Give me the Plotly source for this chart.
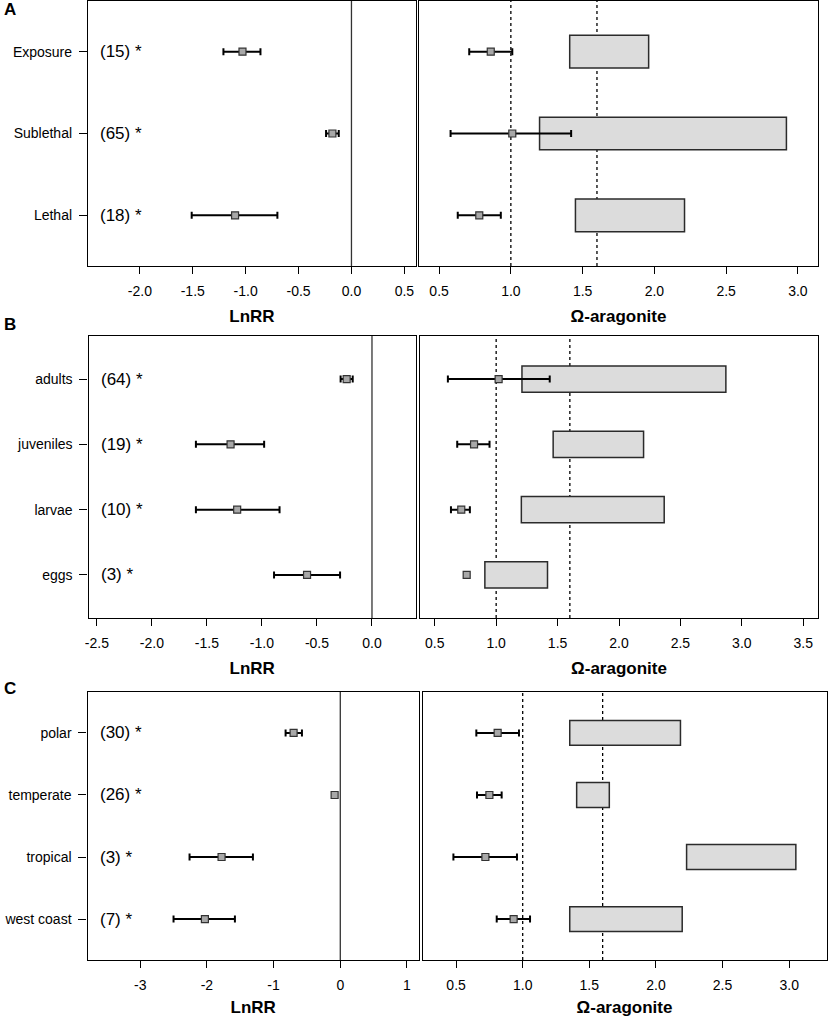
import plotly.graph_objects as go

# ---- data ----
# panel A : response type
a_cats = ["Exposure", "Sublethal", "Lethal"]
a_n = ["(15) *", "(65) *", "(18) *"]
a_lnrr = [-1.03, -0.18, -1.10]
a_lnrr_lo = [-1.21, -0.24, -1.51]
a_lnrr_hi = [-0.86, -0.12, -0.70]
a_om = [0.86, 1.01, 0.78]
a_om_lo = [0.71, 0.58, 0.63]
a_om_hi = [1.01, 1.42, 0.93]
a_rng_lo = [1.41, 1.20, 1.45]
a_rng_hi = [1.96, 2.92, 2.21]

# panel B : life stage
b_cats = ["adults", "juveniles", "larvae", "eggs"]
b_n = ["(64) *", "(19) *", "(10) *", "(3) *"]
b_lnrr = [-0.23, -1.285, -1.225, -0.59]
b_lnrr_lo = [-0.285, -1.60, -1.60, -0.89]
b_lnrr_hi = [-0.175, -0.98, -0.84, -0.29]
b_om = [1.02, 0.82, 0.716, 0.76]
b_om_lo = [0.607, 0.683, 0.632, 0.76]
b_om_hi = [1.436, 0.946, 0.786, 0.76]
b_rng_lo = [1.21, 1.464, 1.205, 0.908]
b_rng_hi = [2.87, 2.20, 2.368, 1.418]

# panel C : region
c_cats = ["polar", "temperate", "tropical", "west coast"]
c_n = ["(30) *", "(26) *", "(3) *", "(7) *"]
c_lnrr = [-0.70, -0.085, -1.78, -2.03]
c_lnrr_lo = [-0.82, -0.085, -2.26, -2.50]
c_lnrr_hi = [-0.575, -0.085, -1.31, -1.58]
c_om = [0.812, 0.75, 0.72, 0.932]
c_om_lo = [0.652, 0.657, 0.48, 0.805]
c_om_hi = [0.972, 0.842, 0.957, 1.055]
c_rng_lo = [1.353, 1.405, 2.23, 1.353]
c_rng_hi = [2.184, 1.65, 3.05, 2.197]

lnrr_zero = 0
omega_lines = [1.0, 1.6]

a_lnrr_ticks = [-2.0, -1.5, -1.0, -0.5, 0.0, 0.5]
b_lnrr_ticks = [-2.5, -2.0, -1.5, -1.0, -0.5, 0.0]
c_lnrr_ticks = [-3, -2, -1, 0, 1]
a_om_ticks = [0.5, 1.0, 1.5, 2.0, 2.5, 3.0]
b_om_ticks = [0.5, 1.0, 1.5, 2.0, 2.5, 3.0, 3.5]
c_om_ticks = [0.5, 1.0, 1.5, 2.0, 2.5, 3.0]

W, H = 829, 1017
FONT = "Liberation Sans, Arial, sans-serif"

fig = go.Figure()


def fmt(vals, dec=1):
    return [("%." + str(dec) + "f") % v for v in vals]


panels = [
    dict(letter="A", cats=a_cats, n=a_n, ln=a_lnrr, lnlo=a_lnrr_lo, lnhi=a_lnrr_hi,
         om=a_om, omlo=a_om_lo, omhi=a_om_hi, rlo=a_rng_lo, rhi=a_rng_hi,
         lt=a_lnrr_ticks, ltt=fmt(a_lnrr_ticks), ot=a_om_ticks, ott=fmt(a_om_ticks),
         lrange=[-2.49, 0.61], orange=[0.36, 3.14],
         lx=[88, 416], rx=[419, 818], py=[1, 266], lab_y=9),
    dict(letter="B", cats=b_cats, n=b_n, ln=b_lnrr, lnlo=b_lnrr_lo, lnhi=b_lnrr_hi,
         om=b_om, omlo=b_om_lo, omhi=b_om_hi, rlo=b_rng_lo, rhi=b_rng_hi,
         lt=b_lnrr_ticks, ltt=fmt(b_lnrr_ticks), ot=b_om_ticks, ott=fmt(b_om_ticks),
         lrange=[-2.576, 0.40], orange=[0.38, 3.62],
         lx=[88.5, 416], rx=[420, 818], py=[336, 618], lab_y=324),
    dict(letter="C", cats=c_cats, n=c_n, ln=c_lnrr, lnlo=c_lnrr_lo, lnhi=c_lnrr_hi,
         om=c_om, omlo=c_om_lo, omhi=c_om_hi, rlo=c_rng_lo, rhi=c_rng_hi,
         lt=c_lnrr_ticks, ltt=fmt(c_lnrr_ticks, 0), ot=c_om_ticks, ott=fmt(c_om_ticks),
         lrange=[-3.79, 1.18], orange=[0.248, 3.28],
         lx=[87.5, 419], rx=[422.5, 826.5], py=[692, 960], lab_y=688),
]

axis_common = dict(showline=True, mirror=True, linecolor="black", linewidth=1.3,
                   showgrid=False, zeroline=False, ticks="outside", ticklen=7,
                   tickcolor="black", tickwidth=1.2, automargin=False,
                   tickfont=dict(family=FONT, size=14, color="black"))

layout_axes = {}
annotations = []
shapes = []

for i, p in enumerate(panels):
    k = len(p["cats"])
    ypos = list(range(k, 0, -1))
    yrange = [0.5 - 0.04 * k, k + 0.5 + 0.04 * k]
    ydom = [1 - p["py"][1] / H, 1 - p["py"][0] / H]
    li, ri = 2 * i + 1, 2 * i + 2
    lx_name = "x" if li == 1 else "x%d" % li
    ly_name = "y" if li == 1 else "y%d" % li
    rx_name, ry_name = "x%d" % ri, "y%d" % ri

    # left panel: LnRR
    fig.add_trace(go.Scatter(
        x=p["ln"], y=ypos, xaxis=lx_name, yaxis=ly_name, mode="markers",
        marker=dict(symbol="square", size=7, color="#a8a8a8",
                    line=dict(color="#333333", width=1.2)),
        error_x=dict(type="data", symmetric=False,
                     array=[h - m for h, m in zip(p["lnhi"], p["ln"])],
                     arrayminus=[m - l for m, l in zip(p["ln"], p["lnlo"])],
                     color="black", thickness=2, width=3.5),
        showlegend=False, hoverinfo="skip"))

    # right panel: omega ranges (bars) and means
    fig.add_trace(go.Bar(
        y=ypos, x=[h - l for h, l in zip(p["rhi"], p["rlo"])], base=p["rlo"],
        orientation="h", width=0.4, xaxis=rx_name, yaxis=ry_name,
        marker=dict(color="#dcdcdc", line=dict(color="#2b2b2b", width=1.5)),
        showlegend=False, hoverinfo="skip"))
    fig.add_trace(go.Scatter(
        x=p["om"], y=ypos, xaxis=rx_name, yaxis=ry_name, mode="markers",
        marker=dict(symbol="square", size=7, color="#a8a8a8",
                    line=dict(color="#333333", width=1.2)),
        error_x=dict(type="data", symmetric=False,
                     array=[h - m for h, m in zip(p["omhi"], p["om"])],
                     arrayminus=[m - l for m, l in zip(p["om"], p["omlo"])],
                     color="black", thickness=2, width=3.5),
        showlegend=False, hoverinfo="skip"))

    layout_axes["xaxis" if li == 1 else "xaxis%d" % li] = dict(
        axis_common, domain=[p["lx"][0] / W, p["lx"][1] / W], range=p["lrange"],
        anchor=ly_name, tickvals=p["lt"], ticktext=p["ltt"], ticklabelstandoff=5,
        title=dict(text="<b>LnRR</b>", standoff=12,
                   font=dict(family=FONT, size=17, color="black")))
    layout_axes["yaxis" if li == 1 else "yaxis%d" % li] = dict(
        axis_common, domain=ydom, range=yrange, anchor=lx_name,
        tickvals=ypos, ticktext=p["cats"], ticklen=8, ticklabelstandoff=4)
    layout_axes["xaxis%d" % ri] = dict(
        axis_common, domain=[p["rx"][0] / W, p["rx"][1] / W], range=p["orange"],
        anchor=ry_name, tickvals=p["ot"], ticktext=p["ott"], ticklabelstandoff=5,
        title=dict(text="<b>Ω-aragonite</b>", standoff=12,
                   font=dict(family=FONT, size=17, color="black")))
    layout_axes["yaxis%d" % ri] = dict(
        axis_common, domain=ydom, range=yrange, anchor=rx_name,
        showticklabels=False, ticks="")

    # reference lines
    shapes.append(dict(type="line", xref=lx_name, yref="%s domain" % ly_name,
                       x0=lnrr_zero, x1=lnrr_zero, y0=0, y1=1,
                       line=dict(color="#333333", width=1.3), layer="below"))
    for v in omega_lines:
        shapes.append(dict(type="line", xref=rx_name, yref="%s domain" % ry_name,
                           x0=v, x1=v, y0=0, y1=1,
                           line=dict(color="black", width=1.3, dash="dot"),
                           layer="below"))

    # sample sizes
    for yv, txt in zip(ypos, p["n"]):
        annotations.append(dict(text=txt, x=(p["lx"][0] + 10) / W, xref="paper",
                                y=yv, yref=ly_name, xanchor="left", yanchor="middle",
                                showarrow=False,
                                font=dict(family=FONT, size=17, color="black")))

    # panel letter
    annotations.append(dict(text="<b>%s</b>" % p["letter"], x=2 / W, xref="paper",
                            y=1 - p["lab_y"] / H, yref="paper", xanchor="left",
                            yanchor="middle", showarrow=False,
                            font=dict(family=FONT, size=17, color="black")))

fig.update_layout(
    width=W, height=H,
    margin=dict(l=0, r=0, t=0, b=0),
    paper_bgcolor="white", plot_bgcolor="white",
    barmode="overlay",
    shapes=shapes, annotations=annotations,
    font=dict(family=FONT, color="black"),
    **layout_axes)

# drop the browser's default page margin so the figure fills the window
fig.write_html("out.html", config={"displayModeBar": False},
               post_script="document.body.style.margin='0px';")
